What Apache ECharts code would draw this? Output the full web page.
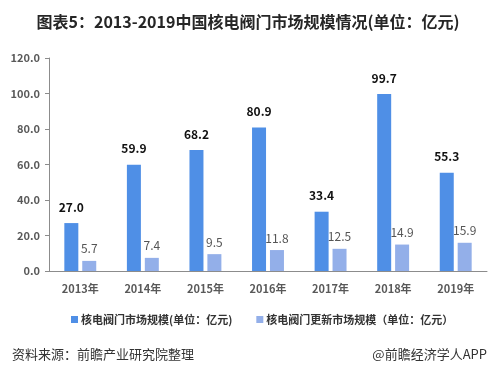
<!DOCTYPE html>
<html><head><meta charset="utf-8">
<script src="https://cdn.jsdelivr.net/npm/echarts@6/dist/echarts.min.js"></script>
<style>html,body{margin:0;padding:0;background:#fff}#c{width:496px;height:372px}</style>
</head><body><div id="c"></div>
<script>
const categories = ['2013年','2014年','2015年','2016年','2017年','2018年','2019年'];
const marketSize = [27.0, 59.9, 68.2, 80.9, 33.4, 99.7, 55.3];
const renewalSize = [5.7, 7.4, 9.5, 11.8, 12.5, 14.9, 15.9];
const seriesNames = ['核电阀门市场规模(单位：亿元)', '核电阀门更新市场规模（单位：亿元）'];
const yTicks = {min: 0, max: 120, interval: 20};

const chart = echarts.init(document.getElementById('c'));
const font = '"Noto Sans CJK SC", "Liberation Sans", sans-serif';
chart.setOption({
  animation: false,
  textStyle: {fontFamily: font},
  title: [
    {text: '图表5：2013-2019中国核电阀门市场规模情况(单位：亿元)', left: 'center', top: 9,
     textStyle: {fontSize: 16, fontWeight: 'bold', color: '#262626', fontFamily: font}},
    {text: '资料来源：前瞻产业研究院整理', left: 7, top: 343,
     textStyle: {fontSize: 13, fontWeight: 'normal', color: '#333', fontFamily: font}},
    {text: '@前瞻经济学人APP', right: 4, top: 343,
     textStyle: {fontSize: 13, fontWeight: 'normal', color: '#333', fontFamily: font}}
  ],
  legend: {
    top: 309, left: 66, itemGap: 24, itemWidth: 7, itemHeight: 7, icon: 'rect',
    textStyle: {fontSize: 11, fontWeight: 'bold', color: '#333', fontFamily: font, padding: [0,0,0,-2]},
    data: seriesNames
  },
  grid: {left: 49, right: 9, top: 58, bottom: 101, containLabel: false},
  xAxis: {
    type: 'category', data: categories,
    axisLine: {lineStyle: {color: '#8c8c8c', width: 1}},
    axisTick: {show: false},
    axisLabel: {fontSize: 11, fontWeight: 'bold', color: '#595959', margin: 12, fontFamily: font}
  },
  yAxis: {
    type: 'value', min: yTicks.min, max: yTicks.max, interval: yTicks.interval,
    axisLine: {show: true, lineStyle: {color: '#8c8c8c'}},
    axisTick: {show: true, length: 4, lineStyle: {color: '#8c8c8c'}},
    splitLine: {show: false},
    axisLabel: {fontSize: 11, fontWeight: 'bold', color: '#595959', margin: 9,
      formatter: v => v.toFixed(1), fontFamily: font}
  },
  series: [
    {name: seriesNames[0], type: 'bar', data: marketSize, barWidth: 14, barGap: '28%',
     itemStyle: {color: '#4f8fe6'},
     label: {show: true, position: 'top', distance: 10, fontSize: 12, fontWeight: 'bold', color: '#111',
       formatter: p => p.value.toFixed(1), fontFamily: font}},
    {name: seriesNames[1], type: 'bar', data: renewalSize, barWidth: 14,
     itemStyle: {color: '#93afe9'},
     label: {show: true, position: 'top', distance: 6, fontSize: 12, color: '#555',
       formatter: p => p.value.toFixed(1), fontFamily: font}}
  ]
});
</script></body></html>
